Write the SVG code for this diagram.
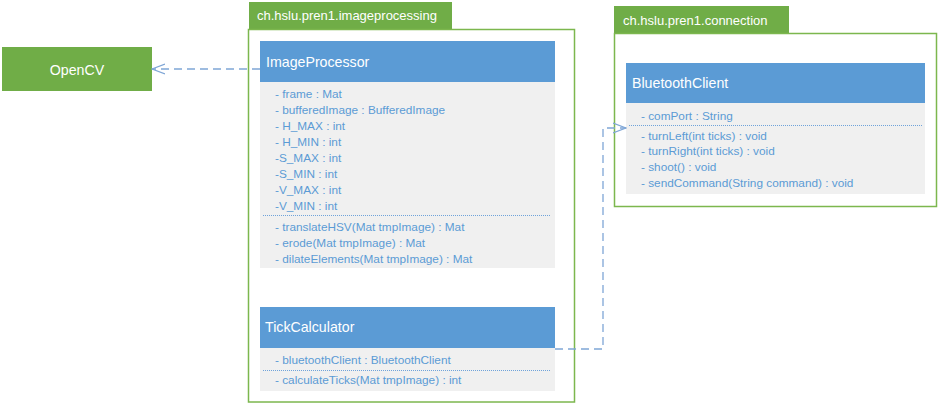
<svg xmlns="http://www.w3.org/2000/svg" width="938" height="404" viewBox="0 0 938 404">
<defs>
<style>
.tab{fill:#70ad47}
.pkg{fill:none;stroke:#7cb74e;stroke-width:1.5}
.tabtxt{fill:#fff;font:13px "Liberation Sans",Arial,sans-serif}
.hdr{fill:#5b9bd5}
.body{fill:#f0f0f0}
.title{fill:#fff;font:14.2px "Liberation Sans",Arial,sans-serif}
.m{fill:#5b9bd5;font:11.8px "Liberation Sans",Arial,sans-serif}
.sep{stroke:#6fa3da;stroke-width:1;stroke-dasharray:1,1}
.con{fill:none;stroke:#7fa6d6;stroke-width:1.3;stroke-dasharray:8,5}
</style>
<marker id="open" viewBox="0 0 14 12" refX="13" refY="6" markerWidth="14" markerHeight="12" markerUnits="userSpaceOnUse" orient="auto">
<path d="M0,1 L13,6 L0,11" fill="none" stroke="#7fa6d6" stroke-width="1.3"/>
</marker>
</defs>
<rect width="938" height="404" fill="#fff"/>

<g id="opencv">
<rect x="2" y="47" width="150" height="44" class="tab"/>
<text x="77" y="75" text-anchor="middle" class="title">OpenCV</text>
</g>

<g id="pkg-imageprocessing">
<rect x="249" y="2" width="203" height="27" class="tab"/>
<text x="257" y="19.5" class="tabtxt">ch.hslu.pren1.imageprocessing</text>
<rect x="248.5" y="29.5" width="326" height="372.5" class="pkg"/>
</g>

<g id="pkg-connection">
<rect x="614" y="6" width="175" height="27" class="tab"/>
<text x="623" y="24.5" class="tabtxt">ch.hslu.pren1.connection</text>
<rect x="614.5" y="33.5" width="322" height="173" class="pkg"/>
</g>

<g id="imageprocessor">
<rect x="260" y="41" width="295" height="41" class="hdr"/>
<rect x="260" y="82" width="295" height="186" class="body"/>
<text x="266" y="67" class="title">ImageProcessor</text>
<text x="275" y="98" class="m">- frame : Mat</text>
<text x="275" y="114" class="m">- bufferedImage : BufferedImage</text>
<text x="275" y="130" class="m">- H_MAX : int</text>
<text x="275" y="146" class="m">- H_MIN : int</text>
<text x="275" y="162" class="m">-S_MAX : int</text>
<text x="275" y="178" class="m">-S_MIN : int</text>
<text x="275" y="194" class="m">-V_MAX : int</text>
<text x="275" y="210" class="m">-V_MIN : int</text>
<line x1="263" y1="215.5" x2="551" y2="215.5" class="sep"/>
<text x="275" y="231" class="m">- translateHSV(Mat tmpImage) : Mat</text>
<text x="275" y="247" class="m">- erode(Mat tmpImage) : Mat</text>
<text x="275" y="263" class="m">- dilateElements(Mat tmpImage) : Mat</text>
</g>

<g id="tickcalculator">
<rect x="260" y="307" width="295" height="41" class="hdr"/>
<rect x="260" y="348" width="295" height="43" class="body"/>
<text x="265" y="332" class="title">TickCalculator</text>
<text x="275" y="364" class="m">- bluetoothClient : BluetoothClient</text>
<line x1="263" y1="370.5" x2="551" y2="370.5" class="sep"/>
<text x="275" y="384" class="m">- calculateTicks(Mat tmpImage) : int</text>
</g>

<g id="bluetoothclient">
<rect x="626" y="63" width="299" height="40" class="hdr"/>
<rect x="626" y="103" width="299" height="91" class="body"/>
<text x="632" y="88" class="title">BluetoothClient</text>
<text x="641" y="120" class="m">- comPort : String</text>
<line x1="629" y1="125.5" x2="922" y2="125.5" class="sep"/>
<text x="641" y="140" class="m">- turnLeft(int ticks) : void</text>
<text x="641" y="155" class="m">- turnRight(int ticks) : void</text>
<text x="641" y="171" class="m">- shoot() : void</text>
<text x="641" y="187" class="m">- sendCommand(String command) : void</text>
</g>

<g id="connectors">
<path d="M260,69 L152,69" class="con" marker-end="url(#open)"/>
<path d="M555,349 L603,349 L603,128 L626,128" class="con" marker-end="url(#open)"/>
</g>
</svg>
